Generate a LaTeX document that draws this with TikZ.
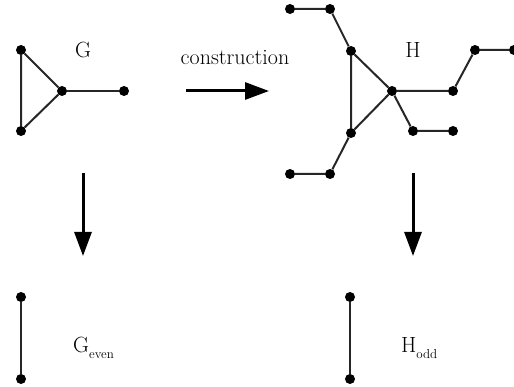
\documentclass[tikz,border=0pt]{standalone}
\usetikzlibrary{arrows.meta}
\begin{document}
\begin{tikzpicture}[x=1pt,y=-1pt,
  dot/.style={circle,fill=black,inner sep=0pt,minimum size=10pt},
  edge/.style={line width=2pt,draw=black!85},
  bigarrow/.style={line width=3pt,-{Triangle[length=24pt,width=17pt]}},
  lbl/.style={font=\fontsize{22}{26}\selectfont,inner sep=0pt}]
\useasboundingbox (0,0) rectangle (514,387);
% G
\node[dot] (g1) at (21,50) {};
\node[dot] (g2) at (21,131) {};
\node[dot] (g3) at (62,91) {};
\node[dot] (g4) at (124,91) {};
\draw[edge] (g1) -- (g2) -- (g3) -- (g1);
\draw[edge] (g3) -- (g4);
\node[lbl] (gl) at (83,50) {G};
% construction arrow
\node[lbl] (cl) at (235,57) {construction};
\coordinate (ca) at (186,91);
\coordinate (cb) at (269,91);
\draw[bigarrow] (ca) -- (cb);
% H
\node[dot] (h1) at (351,51) {};
\node[dot] (h2) at (351,133) {};
\node[dot] (h3) at (392,91) {};
\node[dot] (h4) at (330,9) {};
\node[dot] (h5) at (290,9) {};
\node[dot] (h6) at (330,174) {};
\node[dot] (h7) at (290,174) {};
\node[dot] (h8) at (453,91) {};
\node[dot] (h9) at (475,50) {};
\node[dot] (h10) at (514,50) {};
\node[dot] (h11) at (413,131) {};
\node[dot] (h12) at (453,131) {};
\draw[edge] (h1) -- (h2) -- (h3) -- (h1);
\draw[edge] (h1) -- (h4) -- (h5);
\draw[edge] (h2) -- (h6) -- (h7);
\draw[edge] (h3) -- (h8) -- (h9) -- (h10);
\draw[edge] (h3) -- (h11) -- (h12);
\node[lbl] (hl) at (413,50) {H};
% down arrows
\coordinate (da1) at (83,173);
\coordinate (db1) at (83,256);
\draw[bigarrow] (da1) -- (db1);
\coordinate (da2) at (413,173);
\coordinate (db2) at (413,256);
\draw[bigarrow] (da2) -- (db2);
% bottom
\node[dot] (e1) at (21,297) {};
\node[dot] (e2) at (21,379) {};
\draw[edge] (e1) -- (e2);
\node[lbl,anchor=west] (el) at (73,348) {G\raisebox{-6pt}{\fontsize{13}{14}\selectfont even}};
\node[dot] (o1) at (350,297) {};
\node[dot] (o2) at (350,379) {};
\draw[edge] (o1) -- (o2);
\node[lbl,anchor=west] (ol) at (401,348) {H\raisebox{-6pt}{\fontsize{13}{14}\selectfont odd}};
\end{tikzpicture}
\end{document}
